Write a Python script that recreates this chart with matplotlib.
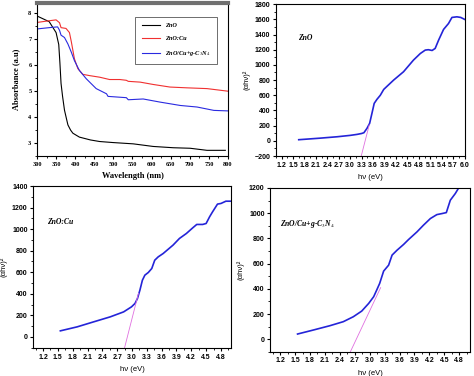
import matplotlib.pyplot as plt
from matplotlib.ticker import MultipleLocator, AutoMinorLocator

# ---- UV-vis absorbance (top-left) ----
wl_zno = [300, 332, 350, 357, 360, 363, 367, 372, 377, 381, 388, 394, 411, 440, 464, 499,
          552, 604, 657, 701, 745, 793]
ab_zno = [7.9, 7.68, 7.26, 6.8, 6.1, 5.3, 4.8, 4.27, 3.95, 3.7, 3.5, 3.38, 3.23, 3.12, 3.06, 3.02,
          2.97, 2.87, 2.82, 2.8, 2.72, 2.72]

wl_cu = [300, 324, 350, 359, 363, 376, 385, 390, 398, 407, 420, 438, 464, 490, 517, 534, 539,
         570, 604, 648, 692, 745, 800]
ab_cu = [7.65, 7.7, 7.75, 7.64, 7.45, 7.42, 7.26, 6.9, 6.25, 5.87, 5.65, 5.6, 5.54, 5.45, 5.45,
         5.42, 5.38, 5.35, 5.26, 5.16, 5.13, 5.1, 5.0]

wl_gcn = [300, 332, 354, 359, 363, 372, 381, 390, 398, 411, 429, 455, 482, 486, 534, 539, 578,
          622, 675, 719, 763, 800]
ab_gcn = [7.4, 7.45, 7.48, 7.35, 7.16, 7.07, 6.82, 6.5, 6.18, 5.8, 5.48, 5.1, 4.9, 4.8, 4.75,
          4.67, 4.7, 4.58, 4.45, 4.39, 4.26, 4.24]

# ---- Tauc plots ----
ev_zno = [1.65, 2.2, 2.66, 3.0, 3.18, 3.3, 3.36, 3.44, 3.51, 3.57, 3.63, 3.7, 3.79, 3.88, 3.97,
          4.14, 4.4, 4.66, 4.84, 4.97, 5.05, 5.15, 5.23, 5.32, 5.45, 5.58, 5.67, 5.8, 5.9, 6.0]
tauc_zno = [15, 35, 54, 72, 85, 97, 107, 164, 230, 360, 493, 545, 600, 677, 720,
            800, 910, 1063, 1150, 1195, 1200, 1190, 1217, 1326, 1467, 1545, 1625, 1633, 1625, 1600]
tan_zno_x = [3.29, 3.50]
tan_zno_y = [-200, 210]

ev_cu = [1.55, 1.89, 2.22, 2.56, 2.83, 2.99, 3.06, 3.11, 3.16, 3.21, 3.26, 3.33, 3.4, 3.46,
         3.53, 3.63, 3.83, 3.96, 4.1, 4.23, 4.31, 4.43, 4.5, 4.57, 4.63, 4.73, 4.8, 4.9, 5.0]
tauc_cu = [56, 93, 139, 186, 232, 279, 310, 356, 434, 526, 573, 598, 635, 712,
           743, 774, 852, 914, 960, 1013, 1044, 1044, 1053, 1115, 1161, 1233, 1239, 1260, 1260]
tan_cu_x = [2.85, 3.13]
tan_cu_y = [-100, 403]

ev_gcn = [1.55, 1.87, 2.2, 2.47, 2.67, 2.84, 2.98, 3.08, 3.14, 3.2, 3.28, 3.38, 3.45, 3.55,
          3.68, 3.78, 3.95, 4.08, 4.22, 4.35, 4.45, 4.54, 4.62, 4.72, 4.8]
tauc_gcn = [42, 74, 108, 140, 179, 224, 285, 338, 390, 443, 541, 588, 668, 707,
            752, 791, 852, 905, 958, 989, 997, 1005, 1103, 1156, 1208]
tan_gcn_x = [2.61, 3.22]
tan_gcn_y = [-100, 410]

SERIF = "Liberation Serif"
SANS = "Liberation Sans"
BLUE = "#2424d8"
PINK = "#e070e0"

plt.rcParams.update({"mathtext.fontset": "stix", "axes.linewidth": 0.8,
                     "xtick.major.width": 0.8, "ytick.major.width": 0.8,
                     "xtick.minor.width": 0.6, "ytick.minor.width": 0.6,
                     "xtick.major.size": 2.5, "ytick.major.size": 2.5,
                     "xtick.minor.size": 1.5, "ytick.minor.size": 1.5})

fig = plt.figure(figsize=(4.74, 3.76), dpi=100)


def style_ticks(ax, family, size=5):
    for lab in ax.get_xticklabels() + ax.get_yticklabels():
        lab.set_family(family)
        lab.set_fontweight("bold")
        lab.set_fontsize(size)
    ax.tick_params(which="both", direction="out", pad=1.5)


# ── top-left: absorbance ──
ax1 = fig.add_axes([0.078, 0.585, 0.403, 0.407])
ax1.plot(wl_zno, ab_zno, color="black", lw=0.8, label="ZnO")
ax1.plot(wl_cu, ab_cu, color="#f03030", lw=0.8, label="ZnO:Cu")
ax1.plot(wl_gcn, ab_gcn, color="#2a2ae0", lw=0.8, label="ZnO/Cu+g-C$_3$N$_4$")
ax1.set_xlim(300, 800)
ax1.set_ylim(2.5, 8.4)
ax1.xaxis.set_major_locator(MultipleLocator(50))
ax1.xaxis.set_minor_locator(MultipleLocator(25))
ax1.yaxis.set_major_locator(MultipleLocator(1))
ax1.yaxis.set_minor_locator(MultipleLocator(0.5))
ax1.spines["top"].set_color("#707070")
ax1.spines["top"].set_linewidth(3)
style_ticks(ax1, SERIF, 4.5)
ax1.set_xlabel("Wavelength (nm)", family=SERIF, fontweight="bold", fontsize=6, labelpad=4)
ax1.set_ylabel("Absorbance (a.u)", family=SERIF, fontweight="bold", fontsize=6, labelpad=6)
leg = ax1.legend(loc="upper right", bbox_to_anchor=(0.96, 0.93),
                 prop={"family": SERIF, "style": "italic", "weight": "bold", "size": 4.5},
                 frameon=True, fancybox=False, edgecolor="black", handlelength=3,
                 borderpad=1.0, labelspacing=1.2)
leg.get_frame().set_linewidth(0.5)


def tauc_panel(rect, x, y, tx, ty, xlim, ylim, yticks, xticks, name, name_pos):
    ax = fig.add_axes(rect)
    ax.plot(x, y, color=BLUE, lw=1.2)
    ax.plot(tx, ty, color=PINK, lw=0.6)
    ax.set_xlim(*xlim)
    ax.set_ylim(*ylim)
    ax.set_xticks(xticks)
    ax.set_xticklabels([f"{v:.1f}" for v in xticks])
    ax.xaxis.set_minor_locator(AutoMinorLocator(2))
    ax.set_yticks(yticks)
    ax.yaxis.set_minor_locator(AutoMinorLocator(2))
    style_ticks(ax, SANS, 5)
    ax.set_xlabel("hν (eV)", family=SANS, fontsize=5.5, labelpad=4)
    ax.set_ylabel("(αhν)²", family=SANS, fontsize=5.5, labelpad=3)
    ax.text(name_pos[0], name_pos[1], name, transform=ax.transAxes, family=SERIF,
            style="italic", fontweight="bold", fontsize=5.5, va="center")
    return ax


xt_zno = [1.2 + 0.3 * i for i in range(17)]
xt_48 = [1.2 + 0.3 * i for i in range(13)]

tauc_panel([0.582, 0.585, 0.398, 0.404], ev_zno, tauc_zno, tan_zno_x, tan_zno_y,
           (1.05, 6.0), (-200, 1800), list(range(-200, 1801, 200)), xt_zno,
           "ZnO", (0.12, 0.78))
tauc_panel([0.070, 0.074, 0.417, 0.431], ev_cu, tauc_cu, tan_cu_x, tan_cu_y,
           (1.0, 5.0), (-105, 1400), list(range(0, 1401, 200)), xt_48,
           "ZnO:Cu", (0.07, 0.78))
tauc_panel([0.570, 0.064, 0.422, 0.436], ev_gcn, tauc_gcn, tan_gcn_x, tan_gcn_y,
           (1.0, 5.02), (-100, 1200), list(range(0, 1201, 200)), xt_48,
           "ZnO/Cu+g-C$_3$N$_4$", (0.05, 0.78))

fig.savefig("out.png", dpi=100)
